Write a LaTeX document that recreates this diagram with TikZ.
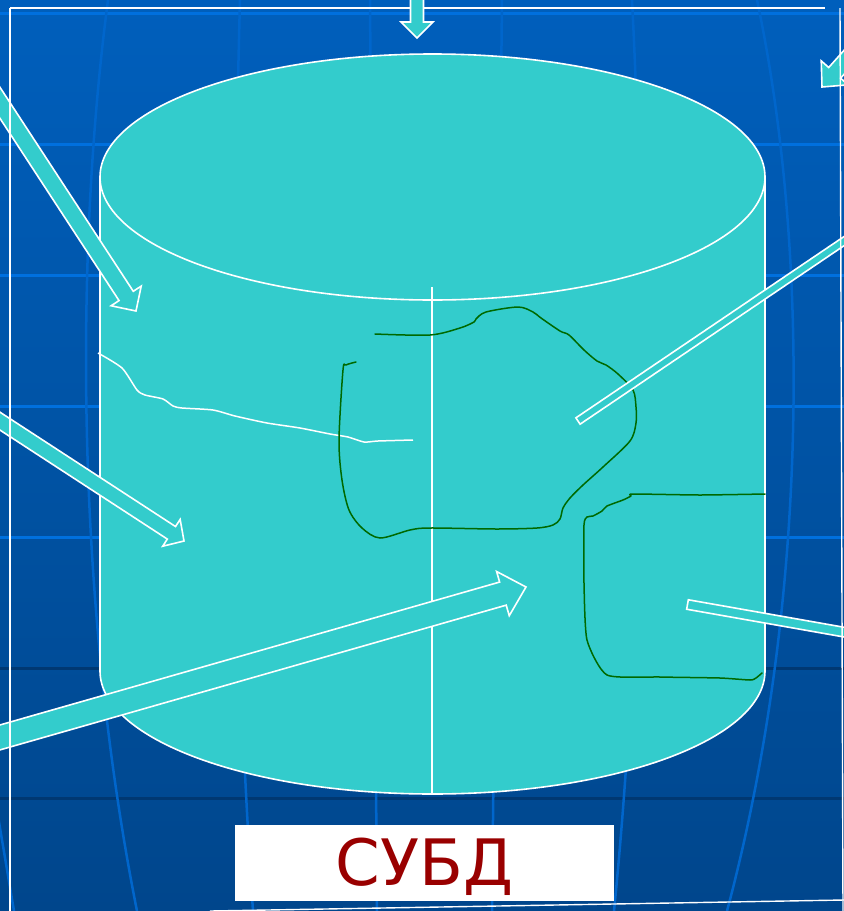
\documentclass[tikz,border=0pt]{standalone}
\usepackage{fontspec}
\newfontfamily\dvs{DejaVu Sans}
\usetikzlibrary{calc}
\definecolor{turq}{RGB}{51,204,204}
\definecolor{bgtop}{RGB}{0,95,188}
\definecolor{bgbot}{RGB}{0,70,140}
\definecolor{gridlight}{RGB}{0,112,222}
\definecolor{griddark}{RGB}{0,56,114}
\definecolor{meridian}{RGB}{0,102,204}
\definecolor{ink}{RGB}{0,105,0}
\definecolor{labelred}{RGB}{153,0,0}
\tikzset{
  blockfill/.style={fill=turq, draw=white, line width=1.6pt, line join=miter},
  gridl/.style={gridlight, line width=3pt},
  gridd/.style={griddark, line width=3pt},
  merid/.style={meridian, line width=2.5pt},
  frameline/.style={white, line width=1.4pt},
  greenline/.style={ink, line width=1.5pt, line join=round, line cap=round},
  whiteline/.style={white, line width=1.5pt, line join=round}
}
% block arrow: start, tip, shaft half width, head length, head half width
\newcommand\blkarrow[5]{%
  \coordinate (#2b) at ($(#2)!#4!(#1)$);
  \filldraw[blockfill] ($(#1)!#3!90:(#2)$) -- ($(#2b)!#3!90:(#2)$) -- ($(#2b)!#5!90:(#2)$)
    -- (#2) -- ($(#2b)!#5!-90:(#2)$) -- ($(#2b)!#3!-90:(#2)$) -- ($(#1)!#3!-90:(#2)$) -- cycle;
}
% flat bar: start, end, half width
\newcommand\blkbar[3]{%
  \filldraw[blockfill] ($(#1)!#3!90:(#2)$) -- ($(#2)!#3!-90:(#1)$) -- ($(#2)!#3!90:(#1)$) -- ($(#1)!#3!-90:(#2)$) -- cycle;
}
\begin{document}
\begin{tikzpicture}[x=1pt, y=-1pt]
\useasboundingbox (0,0) rectangle (844,911);
\clip (0,0) rectangle (844,911);
% background
\shade[top color=bgtop, bottom color=bgbot] (0,0) rectangle (844,911);
\foreach \yy in {13,144,275,406,537} \draw[gridl] (0,\yy) -- (844,\yy);
\foreach \yy in {668,798} \draw[gridd] (0,\yy) -- (844,\yy);
\draw[merid] (-8,780) .. controls (2,840) .. (14,911);
\draw[merid] (108,0) .. controls (75,250) and (75,600) .. (137,911);
\draw[merid] (240,0) .. controls (232,300) and (232,600) .. (253,911);
\draw[merid] (370,0) -- (377,911);
\draw[merid] (502,0) -- (492,911);
\draw[merid] (632,0) .. controls (645,250) and (645,600) .. (614,911);
\draw[merid] (757,0) .. controls (810,250) and (810,600) .. (727,911);
% top frame line
\draw[frameline] (10,8) -- (825,8);
% cylinder
\filldraw[fill=turq, draw=white, line width=1.6pt]
  (100,177) -- (100,671) arc[start angle=180, end angle=360, x radius=332.5pt, y radius=123pt]
  -- (765,177) arc[start angle=0, end angle=180, x radius=332.5pt, y radius=123pt] -- cycle;
\draw[white, line width=1.6pt] (100,177) arc[start angle=180, end angle=360, x radius=332.5pt, y radius=123pt];
\coordinate (axtop) at (432,287);
\coordinate (axbot) at (432,794);
\draw[white, line width=1.3pt] (axtop) -- (axbot);
% white crack line
\draw[whiteline] plot[smooth, tension=0.4] coordinates {(98,353) (122,368) (137,390) (145,395) (163,399) (173,406) (182,408) (213,410) (235,416) (267,423) (300,428) (330,434) (348,437) (364,442) (378,441) (413,440)};
% green outlines
\draw[greenline] plot[smooth, tension=0.5] coordinates {(375,334) (430,335) (460,328) (474,322) (476,319) (486,312) (518,307) (533,312) (541,318) (560,331) (569,335) (584,350) (597,361) (606,365) (618,374) (633,390) (636,407) (636,423) (630,441) (603,467) (583,485) (570,498) (563,508) (560,519) (553,525) (537,528) (497,529) (430,528) (410,530) (380,538) (362,528) (349,510) (342,480) (339,440) (343,370) (346,365) (356,362)};
\draw[greenline] plot[smooth, tension=0.35] coordinates {(765,494) (700,495) (633,494) (631,496) (623,500) (607,506) (602,511) (593,516) (587,517) (584,525) (584,583) (587,640) (607,675) (660,677) (720,678) (750,680) (756,678) (762,673)};
% arrows
\coordinate (topS) at (417,-20);  \coordinate (topT) at (417,38);
\coordinate (trS) at (922,-25);   \coordinate (trT) at (822,87);
\coordinate (ulS) at (-28,60);    \coordinate (ulT) at (136,311);
\coordinate (mlS) at (-34,399);   \coordinate (mlT) at (184,541);
\coordinate (blS) at (-51,752);   \coordinate (blT) at (526,587);
\coordinate (rbS) at (893,208);   \coordinate (rbT) at (578,421);
\coordinate (lbS) at (934,648);   \coordinate (lbT) at (687.5,604.5);
\blkarrow{topS}{topT}{6.5pt}{16pt}{16pt}
\blkarrow{trS}{trT}{8pt}{19pt}{18pt}
\blkarrow{ulS}{ulT}{8.5pt}{18pt}{18pt}
\blkarrow{mlS}{mlT}{7.5pt}{15pt}{16pt}
\blkarrow{blS}{blT}{12pt}{24pt}{23pt}
\blkbar{rbS}{rbT}{3.8pt}
\blkbar{lbS}{lbT}{4.8pt}
% frame lines on top
\draw[frameline] (10,8) -- (10,911);
\draw[frameline] (840,8) -- (843,911);
\draw[frameline] (210,911) -- (844,900);
% label
\node[fill=white, minimum width=379pt, minimum height=76pt, inner sep=0pt] (lblbox) at (424.5,862.5) {};
\node[anchor=base, text=labelred, font=\dvs\fontsize{64}{64}\selectfont, inner sep=0pt] (lbl) at (424.5,885) {СУБД};
\end{tikzpicture}
\end{document}
